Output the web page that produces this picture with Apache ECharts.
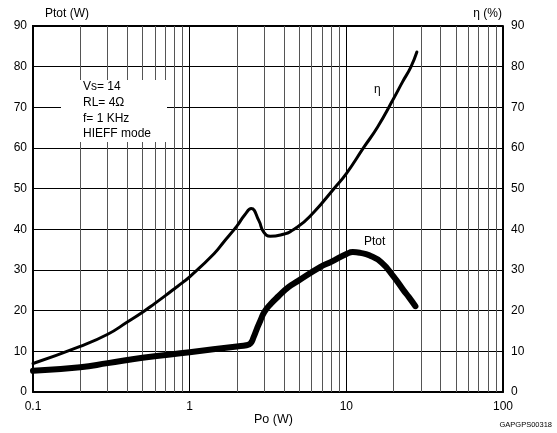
<!DOCTYPE html>
<html>
<head>
<meta charset="utf-8">
<script src="https://cdn.jsdelivr.net/npm/echarts@6/dist/echarts.min.js"></script>
<style>
html,body{margin:0;padding:0;background:#fff;}
#chart{width:557px;height:433px;}
</style>
</head>
<body>
<div id="chart"></div>
<script>
// ---- data ----
var etaX   = [0.1, 0.2, 0.3, 0.4, 0.5, 0.6, 0.7, 0.8, 0.9, 1, 1.43, 1.65, 2, 2.25, 2.47, 2.76, 2.97, 3.27, 3.8, 4.85, 6.2, 8.33, 10, 12.95, 15.8, 20, 22.8, 25.8, 28.2];
var etaY   = [7, 11.2, 14.2, 17.2, 19.6, 21.8, 23.7, 25.4, 26.9, 28.3, 34, 36.9, 40.8, 43.6, 45.1, 42.2, 39.3, 38.3, 38.6, 40.5, 44.2, 50, 53.7, 60.2, 65.1, 72.1, 76.2, 79.9, 83.6];
var ptotX  = [0.1, 0.2, 0.3, 0.5, 1, 2, 2.3, 2.45, 2.56, 2.69, 2.83, 3.0, 3.3, 3.7, 4.27, 4.87, 6.8, 8, 10.1, 11, 12.3, 14, 16.7, 20.1, 23.2, 25, 27.6];
var ptotY  = [5.2, 6.1, 7.1, 8.4, 9.8, 11.2, 11.5, 12, 13.5, 15.6, 17.6, 19.7, 21.7, 23.6, 25.8, 27.2, 30.7, 32, 34, 34.4, 34.2, 33.6, 31.9, 28.3, 25, 23.4, 21.1];
var minorX = [0.2, 0.3, 0.4, 0.5, 0.6, 0.7, 0.8, 0.9, 2, 3, 4, 5, 6, 7, 8, 9, 20, 30, 40, 50, 60, 70, 80, 90];
var xTickLabels = ['0.1', '1', '10', '100'];
var infoLines = ['Vs= 14', 'RL= 4\u03A9', 'f= 1 KHz', 'HIEFF mode'];

function pairs(xs, ys) { return xs.map(function (x, i) { return [x, ys[i]]; }); }

var FONT = 'Liberation Sans, Arial, Helvetica, sans-serif';
var chart = echarts.init(document.getElementById('chart'), null, {renderer: 'canvas'});

var infoGraphics = infoLines.map(function (t, i) {
  return {type: 'text', left: 83, top: 81 + i * 15.6, z: 60,
    style: {text: t, font: '12px ' + FONT, fill: '#000'}};
});

chart.setOption({
  animation: false,
  backgroundColor: '#fff',
  grid: {left: 33, right: 54, top: 26, bottom: 41, show: false},
  xAxis: {
    type: 'log', logBase: 10, min: 0.1, max: 100,
    axisLine: {show: true, onZero: false, lineStyle: {color: '#000', width: 2}},
    axisTick: {show: false},
    axisLabel: {color: '#000', fontFamily: FONT, fontSize: 12, margin: 9,
      formatter: function (v) { var k = Math.round(Math.log10(v)); return xTickLabels[k + 1] || ''; }},
    splitLine: {show: true, lineStyle: {color: '#000', width: 1}},
    minorTick: {show: false}, minorSplitLine: {show: false}
  },
  yAxis: [
    {type: 'value', min: 0, max: 90, interval: 10, position: 'left',
      axisLine: {show: true, lineStyle: {color: '#000', width: 2}},
      axisTick: {show: false},
      axisLabel: {color: '#000', fontFamily: FONT, fontSize: 12, margin: 6},
      splitLine: {show: true, lineStyle: {color: '#000', width: 1}}},
    {type: 'value', min: 0, max: 90, interval: 10, position: 'right',
      axisLine: {show: true, lineStyle: {color: '#000', width: 2}},
      axisTick: {show: false},
      axisLabel: {color: '#000', fontFamily: FONT, fontSize: 12, margin: 8},
      splitLine: {show: false}}
  ],
  series: [
    {type: 'line', name: 'grid', data: [], z: 1, silent: true,
      markLine: {silent: true, symbol: ['none', 'none'], label: {show: false},
        lineStyle: {color: '#555', type: 'solid', width: 1},
        emphasis: {disabled: true},
        data: minorX.map(function (v) { return {xAxis: v}; })}},
    {type: 'line', name: '\u03B7', data: pairs(etaX, etaY), smooth: 0.5, showSymbol: false, z: 5,
      lineStyle: {color: '#000', width: 3, cap: 'round', join: 'round'}},
    {type: 'line', name: 'Ptot', data: pairs(ptotX, ptotY), smooth: 0.5, showSymbol: false, z: 5,
      lineStyle: {color: '#000', width: 6, cap: 'round', join: 'round'}}
  ],
  graphic: [
    {type: 'rect', left: 61, top: 80, z: 50, shape: {width: 106, height: 62}, style: {fill: '#fff'}},
    {type: 'rect', left: 32, top: 25, z: 49, shape: {width: 471, height: 1}, style: {fill: '#000'}},
    {type: 'text', left: 45, top: 8, z: 60, style: {text: 'Ptot (W)', font: '12px ' + FONT, fill: '#000'}},
    {type: 'text', right: 55, top: 8, z: 60, style: {text: '\u03B7 (%)', font: '12px ' + FONT, fill: '#000'}},
    {type: 'text', left: 254, top: 413, z: 60, style: {text: 'Po (W)', font: '12.5px ' + FONT, fill: '#000'}},
    {type: 'text', right: 5, top: 421, z: 60, style: {text: 'GAPGPS00318', font: '7.5px ' + FONT, fill: '#000'}},
    {type: 'text', left: 374, top: 84, z: 60, style: {text: '\u03B7', font: '12px ' + FONT, fill: '#000'}},
    {type: 'text', left: 364, top: 236, z: 60, style: {text: 'Ptot', font: '12px ' + FONT, fill: '#000'}}
  ].concat(infoGraphics)
});
</script>
</body>
</html>
